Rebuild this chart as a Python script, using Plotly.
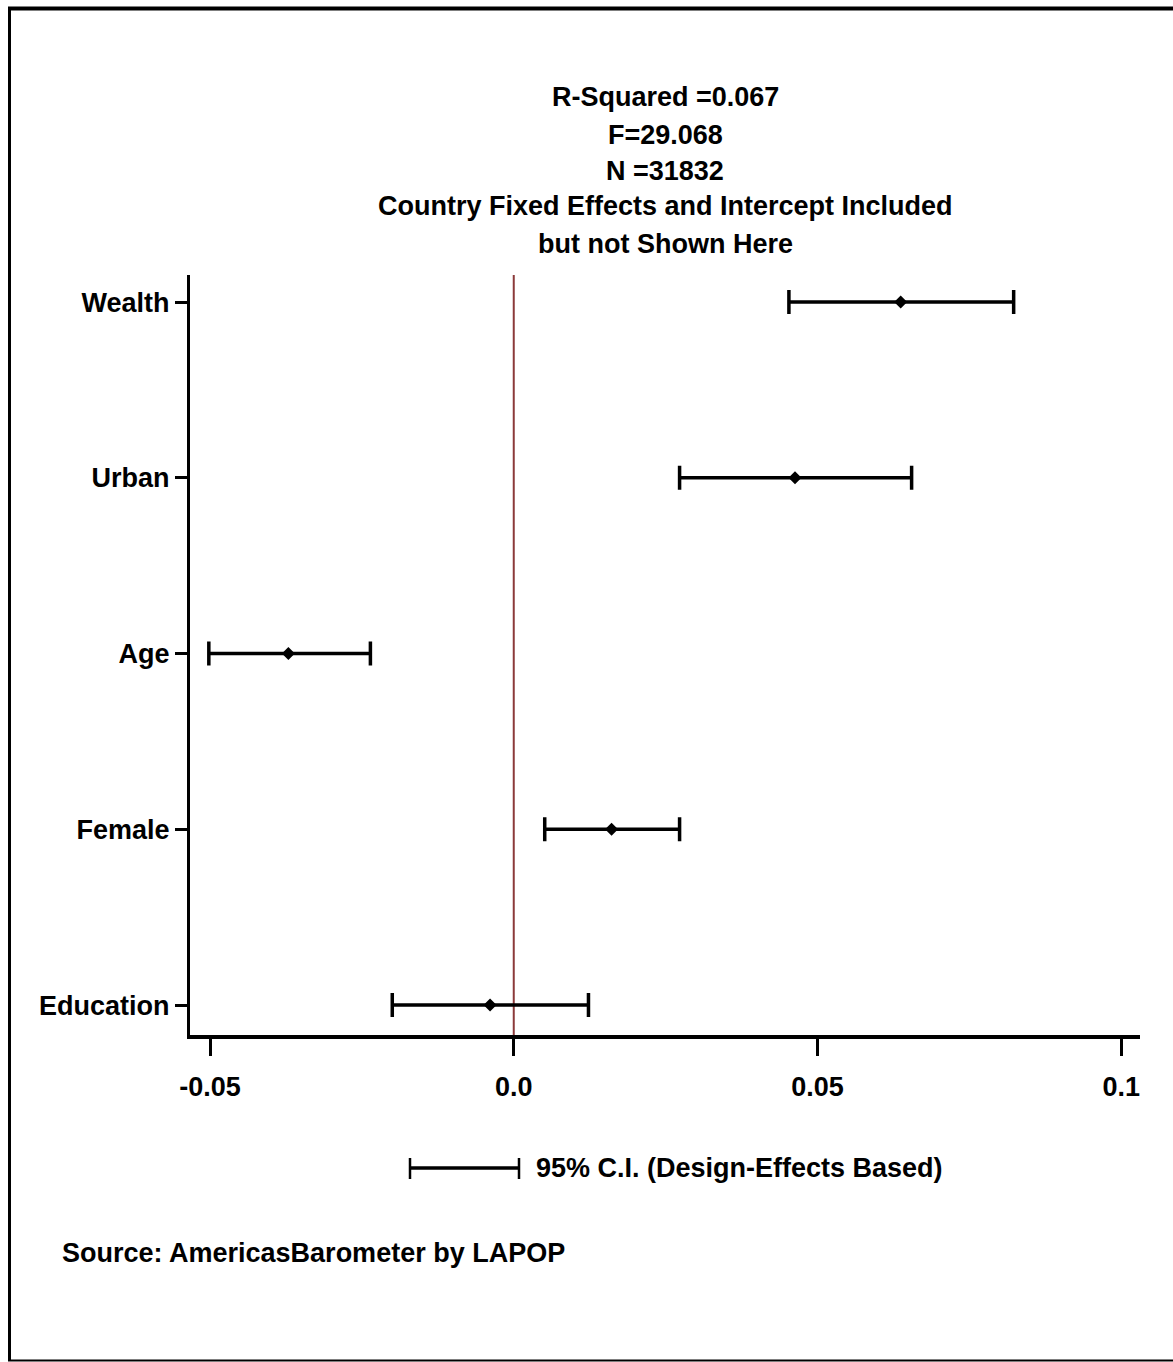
import plotly.graph_objects as go

variables = ["Wealth", "Urban", "Age", "Female", "Education"]
coef = [0.0637, 0.0463, -0.0371, 0.0161, -0.0039]
ci_low = [0.0453, 0.0273, -0.0502, 0.0051, -0.0200]
ci_high = [0.0823, 0.0655, -0.0236, 0.0273, 0.0123]
x_ticks = [-0.05, 0.0, 0.05, 0.1]
x_ticklabels = ["-0.05", "0.0", "0.05", "0.1"]
title_lines = ["R-Squared =0.067", "F=29.068", "N =31832",
               "Country Fixed Effects and Intercept Included", "but not Shown Here"]
legend_text = "95% C.I. (Design-Effects Based)"
source_text = "Source: AmericasBarometer by LAPOP"

FONT = "Liberation Sans Narrow, Arial Narrow, Liberation Sans, Arial"
FS = 27

OFF = 0  # body margin removed by post_script
W, H = 1173, 1362
L, T = 190 - OFF, 275 - OFF
R = W + OFF - 1140
B = H + OFF - 1035
pw, ph = W - L - R, H - T - B

def px(xp):
    return (xp - OFF - L) / pw

def py(yp):
    return (H - B - (yp - OFF)) / ph

fig = go.Figure()
fig.add_trace(go.Scatter(
    x=coef, y=variables, mode="markers",
    marker=dict(symbol="diamond", size=10, color="black"),
    error_x=dict(type="data", symmetric=False,
                 array=[h - c for h, c in zip(ci_high, coef)],
                 arrayminus=[c - l for c, l in zip(coef, ci_low)],
                 color="black", thickness=3.5, width=12),
    showlegend=False, cliponaxis=False,
))

shapes = [
    dict(type="line", xref="x", yref="paper", x0=0, x1=0, y0=0, y1=1,
         line=dict(color="#8B3A3A", width=2), layer="below"),
    # outer frame (top, left, bottom)
    dict(type="line", xref="paper", yref="paper", x0=px(8), x1=px(1200),
         y0=py(8.5), y1=py(8.5), line=dict(color="black", width=4)),
    dict(type="line", xref="paper", yref="paper", x0=px(9.5), x1=px(9.5),
         y0=py(7), y1=py(1361), line=dict(color="black", width=3)),
    dict(type="line", xref="paper", yref="paper", x0=px(8), x1=px(1200),
         y0=py(1360.5), y1=py(1360.5), line=dict(color="black", width=2)),
    # legend sample
    dict(type="line", xref="paper", yref="paper", x0=px(410), x1=px(519),
         y0=py(1168), y1=py(1168), line=dict(color="black", width=3.5)),
    dict(type="line", xref="paper", yref="paper", x0=px(410), x1=px(410),
         y0=py(1158), y1=py(1179), line=dict(color="black", width=2.5)),
    dict(type="line", xref="paper", yref="paper", x0=px(519), x1=px(519),
         y0=py(1158), y1=py(1179), line=dict(color="black", width=2.5)),
]

annotations = []
title_y = [97, 135, 171, 206, 244]
for t, yy in zip(title_lines, title_y):
    annotations.append(dict(text="<b>" + t + "</b>", xref="paper", yref="paper",
                            x=px(665), y=py(yy), xanchor="center", yanchor="middle",
                            showarrow=False, font=dict(family=FONT, size=FS, color="black")))
annotations.append(dict(text="<b>" + legend_text + "</b>", xref="paper", yref="paper",
                        x=px(534), y=py(1168), xanchor="left", yanchor="middle",
                        showarrow=False, font=dict(family=FONT, size=FS, color="black")))
annotations.append(dict(text="<b>" + source_text + "</b>", xref="paper", yref="paper",
                        x=px(60), y=py(1253), xanchor="left", yanchor="middle",
                        showarrow=False, font=dict(family=FONT, size=FS, color="black")))

fig.update_layout(
    width=W, height=H,
    margin=dict(l=L, r=R, t=T, b=B, autoexpand=False),
    paper_bgcolor="white", plot_bgcolor="white",
    font=dict(family=FONT, size=FS, color="black"),
    shapes=shapes, annotations=annotations,
    xaxis=dict(range=[-0.0533, 0.1031], tickvals=x_ticks, ticktext=["<b>%s</b>" % s for s in x_ticklabels],
               showgrid=False, zeroline=False, showline=True, linecolor="black", linewidth=4,
               ticks="outside", ticklen=17, tickwidth=3, tickcolor="black",
               ticklabelstandoff=8),
    yaxis=dict(type="category", categoryorder="array", categoryarray=variables[::-1],
               range=[-0.17, 4.154], tickvals=variables,
               ticktext=["<b>%s</b>" % v for v in variables],
               showgrid=False, zeroline=False, showline=True, linecolor="black", linewidth=3,
               ticks="outside", ticklen=12, tickwidth=3, tickcolor="black"),
)

fig.write_html("out.html", config={"displayModeBar": False},
               post_script="document.body.style.margin='0';document.body.style.overflow='hidden';")
